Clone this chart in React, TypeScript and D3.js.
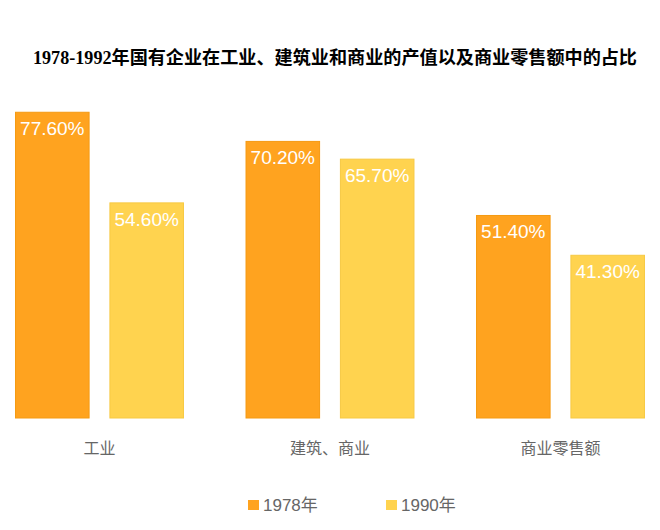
import React from 'react';
import * as d3 from 'd3';

const categories = ['工业', '建筑、商业', '商业零售额'];
const years = ['1978年', '1990年'];
const values1978 = [77.6, 70.2, 51.4];
const values1990 = [54.6, 65.7, 41.3];

const colors = ['#FFA31F', '#FFD34F'];
const strokes = ['#F59A12', '#F7C943'];

const width = 660;
const height = 530;
const baseline = 418;

export default function App() {
  const x0 = d3.scaleBand<string>()
    .domain(categories)
    .range([-15.75, 675.75])
    .paddingInner(0.267)
    .paddingOuter(0.1335);

  const x1 = d3.scaleBand<string>()
    .domain(years)
    .range([0, x0.bandwidth()])
    .paddingInner(0.21);

  const y = d3.scaleLinear().domain([0, 100]).range([baseline, 24]);

  const series = [values1978, values1990];
  const font = 'Arial, "Liberation Sans", "Noto Sans CJK SC", sans-serif';

  return (
    <svg width={width} height={height} style={{ position: 'absolute', left: 0, top: 0, background: '#fff' }}>
      <text
        x={335}
        y={64}
        textAnchor="middle"
        fontSize={18}
        fontWeight="bold"
        fontFamily='"Liberation Serif", "Noto Sans CJK SC", serif'
        fill="#000"
        textLength={604}
        lengthAdjust="spacingAndGlyphs"
      >
        1978-1992年国有企业在工业、建筑业和商业的产值以及商业零售额中的占比
      </text>

      {categories.map((c, i) => (
        <g key={c} transform={`translate(${x0(c)},0)`}>
          {years.map((yr, j) => {
            const v = series[j][i];
            const bx = x1(yr) || 0;
            return (
              <g key={yr}>
                <rect
                  x={bx + 0.5}
                  y={y(v)}
                  width={x1.bandwidth() - 1}
                  height={baseline - y(v)}
                  fill={colors[j]}
                  stroke={strokes[j]}
                  strokeWidth={1}
                />
                <text
                  x={bx + x1.bandwidth() / 2}
                  y={y(v) + 23}
                  textAnchor="middle"
                  fontSize={19}
                  fontFamily={font}
                  fill="#fff"
                >
                  {v.toFixed(2)}%
                </text>
              </g>
            );
          })}
          <text
            x={x0.bandwidth() / 2}
            y={454}
            textAnchor="middle"
            fontSize={16}
            fontFamily={font}
            fill="#666"
          >
            {c}
          </text>
        </g>
      ))}

      {years.map((yr, j) => (
        <g key={yr} transform={`translate(${248 + j * 138},0)`}>
          <rect x={0} y={500} width={11} height={10} fill={colors[j]} />
          <text x={15} y={511} fontSize={17} fontFamily={font} fill="#666">
            {yr}
          </text>
        </g>
      ))}
    </svg>
  );
}
